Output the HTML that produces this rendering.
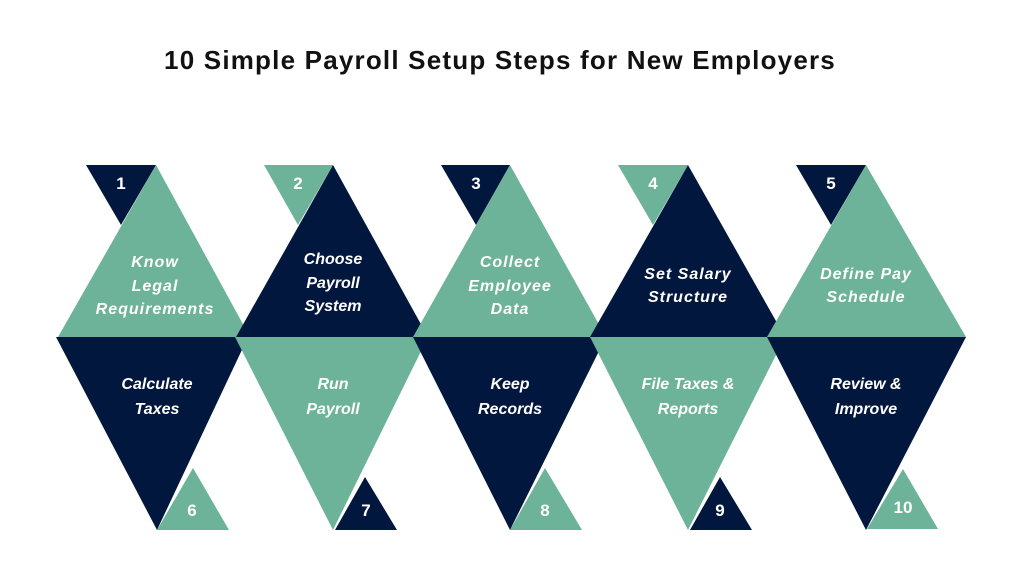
<!DOCTYPE html>
<html><head><style>
body{margin:0;width:1024px;height:576px;background:#fff;overflow:hidden}
svg{display:block}
.t{font-family:"Liberation Sans",sans-serif;font-weight:bold;font-style:italic;fill:#fff;font-size:16px;text-anchor:middle}
.s{letter-spacing:1px}
.n{font-family:"Liberation Sans",sans-serif;font-weight:bold;fill:#fff;font-size:17px;text-anchor:middle}
</style></head><body>
<svg width="1024" height="576" viewBox="0 0 1024 576">
<text x="500" y="69" text-anchor="middle" font-family="Liberation Sans,sans-serif" font-weight="bold" font-size="26" fill="#111" letter-spacing="1.2">10 Simple Payroll Setup Steps for New Employers</text>
<g>
<polygon points="86,165 156,165 121,225" fill="#02173e"/>
<polygon points="264,165 333,165 298,225" fill="#6db39a"/>
<polygon points="441,165 510,165 476,225" fill="#02173e"/>
<polygon points="618,165 688,165 653,225" fill="#6db39a"/>
<polygon points="796,165 866,165 831,225" fill="#02173e"/>
<polygon points="156,165 250,337 58,337" fill="#6db39a"/>
<polygon points="333,165 428,337 236,337" fill="#02173e"/>
<polygon points="510,165 606,337 413,337" fill="#6db39a"/>
<polygon points="688,165 785,337 590,337" fill="#02173e"/>
<polygon points="866,165 966,337 767,337" fill="#6db39a"/>
<polygon points="56,337 248,337 157,530" fill="#02173e"/>
<polygon points="235,337 428,337 333,530" fill="#6db39a"/>
<polygon points="413,337 606,337 510,530" fill="#02173e"/>
<polygon points="590,337 785,337 688,530" fill="#6db39a"/>
<polygon points="767,337 966,337 866,530" fill="#02173e"/>
<polygon points="193,468 229,530 157,530" fill="#6db39a"/>
<polygon points="365,477 397,530 335,530" fill="#02173e"/>
<polygon points="545,468 582,530 510,530" fill="#6db39a"/>
<polygon points="720,477 752,530 690,530" fill="#02173e"/>
<polygon points="903,469 938,529 867,529" fill="#6db39a"/>
</g>
<text class="n" x="121" y="189">1</text>
<text class="n" x="298" y="189">2</text>
<text class="n" x="476" y="189">3</text>
<text class="n" x="653" y="189">4</text>
<text class="n" x="831" y="189">5</text>
<text class="n" x="192" y="516" font-size="20">6</text>
<text class="n" x="366" y="516" font-size="20">7</text>
<text class="n" x="545" y="516" font-size="20">8</text>
<text class="n" x="720" y="516" font-size="20">9</text>
<text class="n" x="903" y="513" font-size="20">10</text>
<text class="t s" x="155" y="267">Know</text>
<text class="t s" x="155" y="291">Legal</text>
<text class="t s" x="155" y="314">Requirements</text>
<text class="t" x="333" y="264">Choose</text>
<text class="t" x="333" y="288">Payroll</text>
<text class="t" x="333" y="311">System</text>
<text class="t s" x="510" y="267">Collect</text>
<text class="t s" x="510" y="291">Employee</text>
<text class="t s" x="510" y="314">Data</text>
<text class="t s" x="688" y="279">Set Salary</text>
<text class="t s" x="688" y="302">Structure</text>
<text class="t s" x="866" y="279">Define Pay</text>
<text class="t s" x="866" y="302">Schedule</text>
<text class="t" x="157" y="389">Calculate</text>
<text class="t" x="157" y="414">Taxes</text>
<text class="t" x="333" y="389">Run</text>
<text class="t" x="333" y="414">Payroll</text>
<text class="t" x="510" y="389">Keep</text>
<text class="t" x="510" y="414">Records</text>
<text class="t" x="688" y="389">File Taxes &amp;</text>
<text class="t" x="688" y="414">Reports</text>
<text class="t" x="866" y="389">Review &amp;</text>
<text class="t" x="866" y="414">Improve</text>
</svg>
</body></html>
